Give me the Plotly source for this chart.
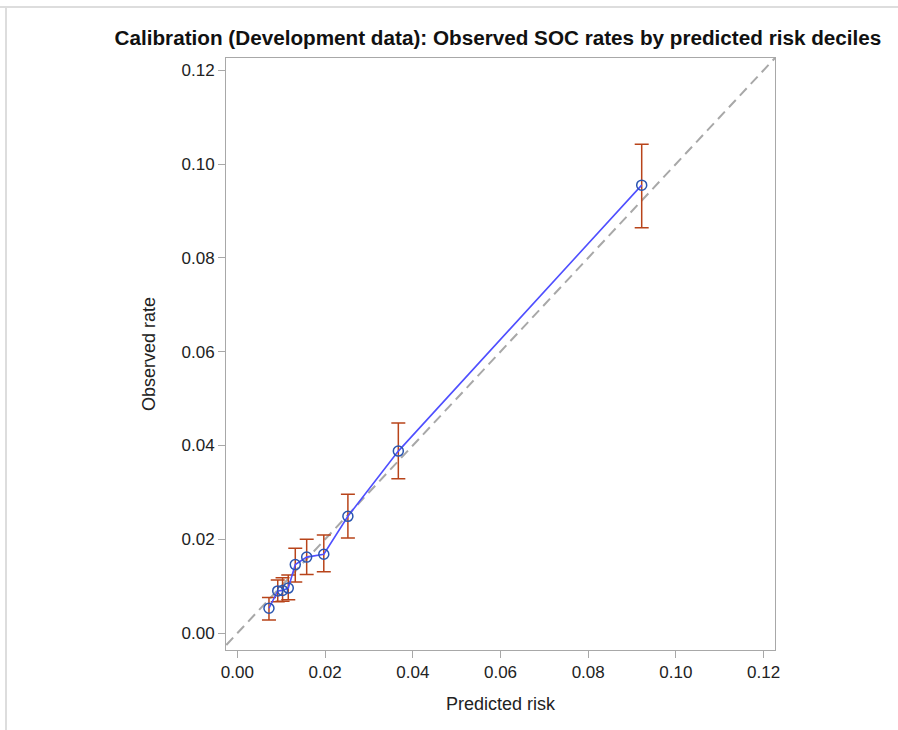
import plotly.graph_objects as go

# Data
predicted = [0.0072, 0.0092, 0.0103, 0.0116, 0.0132, 0.0158, 0.0197, 0.0252, 0.0367, 0.0922]
observed = [0.0053, 0.0090, 0.0091, 0.0096, 0.0146, 0.0162, 0.0168, 0.0249, 0.0388, 0.0955]
upper = [0.0076, 0.0113, 0.0118, 0.0124, 0.0181, 0.0200, 0.0209, 0.0296, 0.0448, 0.1042]
lower = [0.0028, 0.0067, 0.0068, 0.0071, 0.0109, 0.0125, 0.0131, 0.0203, 0.0329, 0.0864]
tick_vals = [0.00, 0.02, 0.04, 0.06, 0.08, 0.10, 0.12]
tick_text = ["0.00", "0.02", "0.04", "0.06", "0.08", "0.10", "0.12"]
ref_extent = [-0.01, 0.13]

err_plus = [u - o for u, o in zip(upper, observed)]
err_minus = [o - l for o, l in zip(observed, lower)]

FONT = "Liberation Sans, Arial, sans-serif"

fig = go.Figure()

fig.add_trace(go.Scatter(
    x=ref_extent, y=ref_extent, mode="lines",
    line=dict(color="#A8A8A8", width=2, dash="10px,6px"),
    hoverinfo="skip", showlegend=False,
))

fig.add_trace(go.Scatter(
    x=predicted, y=observed, mode="lines+markers",
    line=dict(color="#4F4FFF", width=1.6),
    marker=dict(symbol="circle-open", size=10, color="#2A55B0", line=dict(width=1.5, color="#2A55B0")),
    error_y=dict(type="data", symmetric=False, array=err_plus, arrayminus=err_minus,
                 color="#B8441A", thickness=1.5, width=7),
    showlegend=False,
))

axis_common = dict(
    tickvals=tick_vals, ticktext=tick_text,
    showgrid=False, zeroline=False,
    showline=True, linecolor="#A8A8A8", linewidth=1, mirror=True,
    ticks="outside", ticklen=7, tickcolor="#A8A8A8", tickwidth=1,
    tickfont=dict(family=FONT, size=17, color="#222222"),
)

fig.update_layout(
    width=898, height=730,
    margin=dict(l=226, r=123, t=58, b=80),
    paper_bgcolor="white", plot_bgcolor="white",
    title=dict(
        text="<b>Calibration (Development data): Observed SOC rates by predicted risk deciles</b>",
        font=dict(family=FONT, size=20.7, color="#111111"),
        x=0.5545, xanchor="center", y=1 - 38 / 730, yanchor="middle",
    ),
    xaxis=dict(range=[-0.0026, 0.1226],
               title=dict(text="Predicted risk", standoff=15,
                          font=dict(family=FONT, size=18, color="#222222")),
               **axis_common),
    yaxis=dict(range=[-0.0036, 0.1226],
               title=dict(text="Observed rate", standoff=21,
                          font=dict(family=FONT, size=18, color="#222222")),
               **axis_common),
    shapes=[
        dict(type="line", xref="paper", yref="paper", x0=-226/549, x1=(898-226)/549,
             y0=1 + 51/592, y1=1 + 51/592, line=dict(color="#DDDDDD", width=2)),
        dict(type="line", xref="paper", yref="paper", x0=-220/549, x1=-220/549,
             y0=1 + 51/592, y1=-80/592, line=dict(color="#DDDDDD", width=2)),
    ],
)

fig.write_html("out.html")
